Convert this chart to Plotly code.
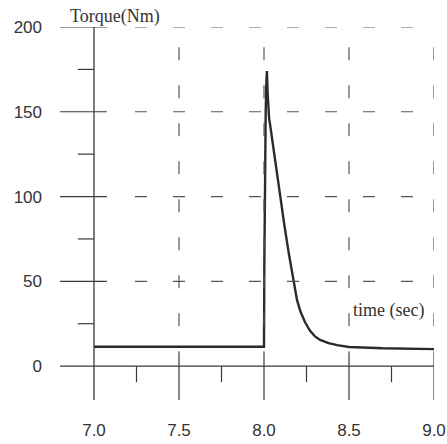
import plotly.graph_objects as go

# ---- data ----
time_s = [7.0, 7.5, 8.0, 8.002, 8.006, 8.010, 8.014, 8.017, 8.021, 8.025, 8.030, 8.035,
          8.05, 8.07, 8.094, 8.12, 8.145, 8.171, 8.194, 8.215, 8.241, 8.27, 8.30,
          8.33, 8.38, 8.43, 8.5, 8.7, 9.0]
torque_nm = [11.4, 11.4, 11.4, 60, 120, 150, 168, 174, 162, 150, 146, 143,
             132, 117, 100, 83, 67, 51, 39, 32, 26, 21, 17.5,
             15.4, 13.5, 12.4, 11.3, 10.5, 10]

x_major = [7.0, 7.5, 8.0, 8.5, 9.0]
x_labels = ["7.0", "7.5", "8.0", "8.5", "9.0"]
x_minor = [7.25, 7.75, 8.25, 8.75]
y_major = [0, 50, 100, 150, 200]
y_labels = ["0", "50", "100", "150", "200"]
y_minor = [25, 75, 125, 175]

AX = "#3a3a3a"
GR = "#555555"

fig = go.Figure()
fig.add_trace(go.Scatter(x=time_s, y=torque_nm, mode="lines",
                         line=dict(color="#2b2b2b", width=2.4),
                         hoverinfo="skip", showlegend=False, cliponaxis=False))

shapes = []
# axes
shapes.append(dict(type="line", x0=6.8, x1=9.0, y0=0, y1=0, line=dict(color=AX, width=1.3)))
shapes.append(dict(type="line", x0=7.0, x1=7.0, y0=-20, y1=200, line=dict(color=AX, width=1.3)))
# x major ticks below axis and short above
for xv in x_major[1:]:
    shapes.append(dict(type="line", x0=xv, x1=xv, y0=-20, y1=8, line=dict(color=AX, width=1.2)))
for xv in x_minor:
    shapes.append(dict(type="line", x0=xv, x1=xv, y0=-9.5, y1=0, line=dict(color=AX, width=1.2)))
# y major ticks crossing axis
for yv in y_major[1:]:
    shapes.append(dict(type="line", x0=6.8, x1=7.076, y0=yv, y1=yv, line=dict(color=AX, width=1.2)))
for yv in y_minor:
    shapes.append(dict(type="line", x0=6.905, x1=7.0, y0=yv, y1=yv, line=dict(color=AX, width=1.2)))
# dashed grid
for yv in y_major[1:]:
    shapes.append(dict(type="line", x0=7.241, x1=9.02, y0=yv, y1=yv,
                       line=dict(color=GR, width=1.2, dash="12px,26px")))
for xv in x_major[1:]:
    shapes.append(dict(type="line", x0=xv, x1=xv, y0=188, y1=8,
                       line=dict(color=GR, width=1.2, dash="13px,25px")))

fig.update_layout(
    width=447, height=444,
    margin=dict(l=60, r=13, t=27, b=44, autoexpand=False),
    paper_bgcolor="white", plot_bgcolor="white",
    shapes=shapes,
    font=dict(family="Liberation Sans, Arial, sans-serif", size=17, color="#333333"),
    xaxis=dict(range=[6.8, 9.0], tickvals=x_major, ticktext=x_labels,
               showgrid=False, zeroline=False, showline=False, ticks="",
               ticklabelstandoff=18, automargin=False, fixedrange=True),
    yaxis=dict(range=[-20, 200], tickvals=y_major, ticktext=y_labels,
               showgrid=False, zeroline=False, showline=False, ticks="",
               ticklabelstandoff=17, automargin=False, fixedrange=True),
    annotations=[
        dict(x=7.124, y=1.0, xref="x", yref="paper", yanchor="bottom", yshift=-2,
             text="Torque(Nm)", showarrow=False,
             font=dict(family="Liberation Serif, Times New Roman, serif", size=18, color="#333333")),
        dict(x=8.73, y=33, xref="x", yref="y", text="time (sec)", showarrow=False,
             font=dict(family="Liberation Serif, Times New Roman, serif", size=18, color="#333333")),
    ],
)

fig.write_html("out.html")
